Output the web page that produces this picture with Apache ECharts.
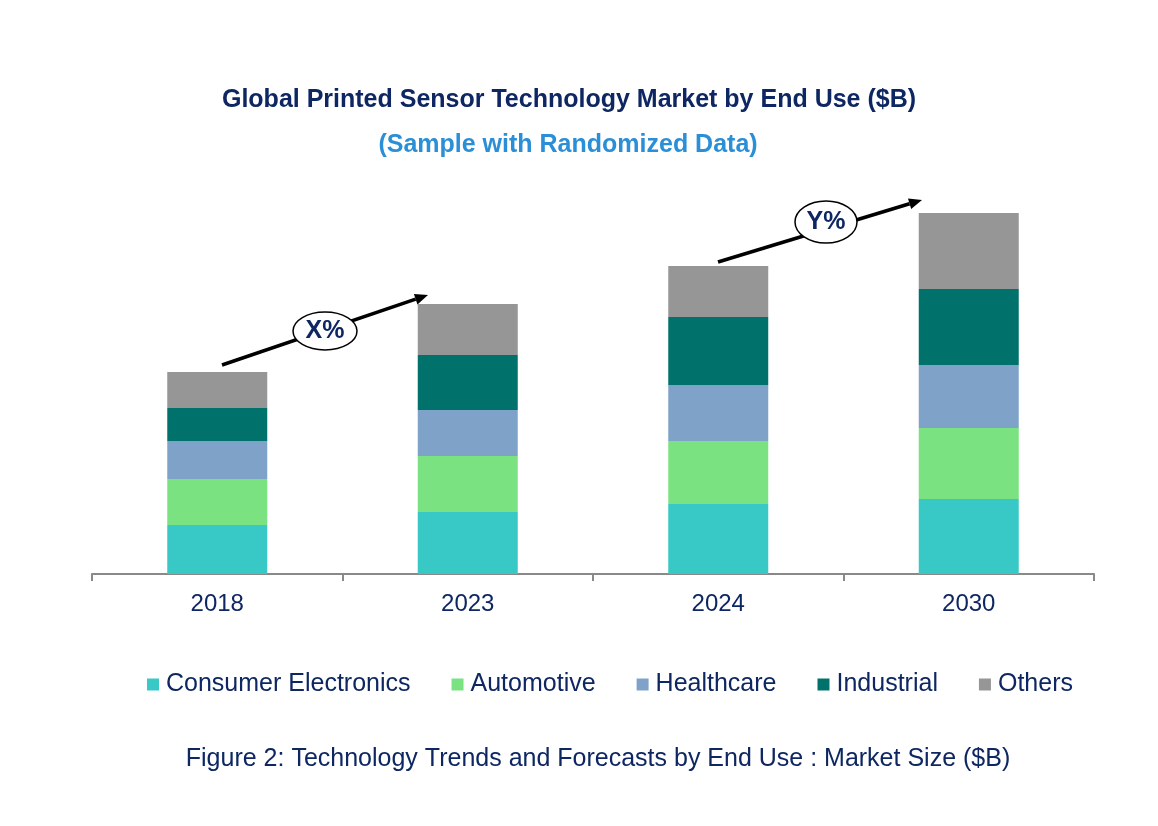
<!DOCTYPE html>
<html>
<head>
<meta charset="utf-8">
<title>Global Printed Sensor Technology Market by End Use</title>
<script src="https://cdn.jsdelivr.net/npm/echarts@6/dist/echarts.min.js"></script>
<style>
  html, body { margin: 0; padding: 0; background: #fff; }
  #chart { width: 1158px; height: 826px; }
</style>
</head>
<body>
<div id="chart"></div>
<script>
// data ($B, sample values)
const years = ['2018', '2023', '2024', '2030']
const consumerElectronics = [4.9, 6.2, 7.0, 7.5]
const automotive = [4.6, 5.6, 6.3, 7.1]
const healthcare = [3.8, 4.6, 5.6, 6.3]
const industrial = [3.3, 5.5, 6.8, 7.6]
const others = [3.6, 5.1, 5.1, 7.6]

const seriesNames = ['Consumer Electronics', 'Automotive', 'Healthcare', 'Industrial', 'Others']
const seriesData = [consumerElectronics, automotive, healthcare, industrial, others]

// colours
const colors = ['#38C8C6', '#7BE282', '#7FA3C8', '#00726B', '#969696']
const navy = '#0E2762'
const font = "'Liberation Sans', Arial, sans-serif"

// arrow = line + triangle head
function arrow(x1, y1, x2, y2) {
  const dx = x2 - x1, dy = y2 - y1
  const len = Math.sqrt(dx * dx + dy * dy)
  const ux = dx / len, uy = dy / len
  const headLen = 13, headW = 5.5
  const bx = x2 - ux * headLen, by = y2 - uy * headLen
  return [
    {
      type: 'line',
      shape: { x1: x1, y1: y1, x2: bx, y2: by },
      style: { stroke: '#000', lineWidth: 3.5 },
      z: 10
    },
    {
      type: 'polygon',
      shape: { points: [[x2, y2], [bx - uy * headW, by + ux * headW], [bx + uy * headW, by - ux * headW]] },
      style: { fill: '#000' },
      z: 10
    }
  ]
}

function bubble(cx, cy, rx, ry, label) {
  return [
    {
      type: 'ellipse',
      shape: { cx: cx, cy: cy, rx: rx, ry: ry },
      style: { fill: '#fff', stroke: '#000', lineWidth: 1.5 },
      z: 11
    },
    {
      type: 'text',
      style: {
        text: label, x: cx, y: cy, align: 'center', verticalAlign: 'middle',
        font: 'bold 25px ' + font, fill: navy
      },
      z: 12
    }
  ]
}

const chart = echarts.init(document.getElementById('chart'))

chart.setOption({
  animation: false,
  backgroundColor: '#fff',
  title: [
    {
      text: 'Global Printed Sensor Technology Market by End Use ($B)',
      left: 564, top: 83, textAlign: 'center',
      textStyle: { fontFamily: font, fontSize: 25, fontWeight: 'bold', color: navy }
    },
    {
      text: '(Sample with Randomized Data)',
      left: 563, top: 128, textAlign: 'center',
      textStyle: { fontFamily: font, fontSize: 25, fontWeight: 'bold', color: '#2A8FD6' }
    },
    {
      text: 'Figure 2: Technology Trends and Forecasts by End Use : Market Size ($B)',
      left: 593, top: 742, textAlign: 'center',
      textStyle: { fontFamily: font, fontSize: 25, fontWeight: 'normal', color: navy }
    }
  ],
  legend: {
    data: seriesNames,
    left: 142,
    top: 667,
    icon: 'rect',
    itemWidth: 12,
    itemHeight: 12,
    itemGap: 41,
    textStyle: { fontFamily: font, fontSize: 25, color: navy, padding: [0, 0, 0, 2] }
  },
  grid: { left: 92, right: 64, top: 174, bottom: 252 },
  xAxis: {
    type: 'category',
    data: years,
    axisLine: { lineStyle: { color: '#898989', width: 2 } },
    axisTick: { show: true, length: 7, lineStyle: { color: '#898989', width: 2 } },
    axisLabel: { margin: 18, fontFamily: font, fontSize: 24, color: navy }
  },
  yAxis: {
    type: 'value',
    min: 0,
    max: 40,
    show: false
  },
  series: seriesNames.map((name, i) => ({
    name: name,
    type: 'bar',
    stack: 'total',
    barWidth: 100,
    data: seriesData[i],
    itemStyle: { color: colors[i] }
  })),
  graphic: [
    ...arrow(222, 365, 428, 295),
    ...bubble(325, 331, 32, 19, 'X%'),
    ...arrow(718, 262, 922, 200),
    ...bubble(826, 222, 31, 21, 'Y%')
  ]
})
</script>
</body>
</html>
